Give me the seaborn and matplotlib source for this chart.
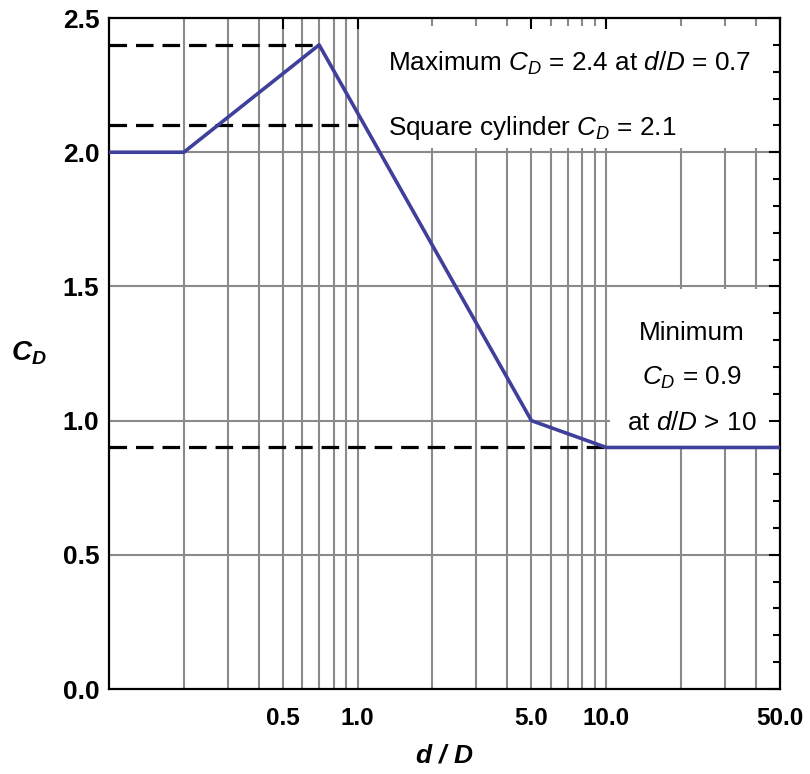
import numpy as np
import pandas as pd
import seaborn as sns
import matplotlib.pyplot as plt
from matplotlib.patches import Rectangle
from matplotlib.ticker import FixedLocator, FixedFormatter, MultipleLocator, LogLocator

# drag coefficient curve
ratio = [0.1, 0.2, 0.7, 5.0, 10.0, 50.0]
cd = [2.0, 2.0, 2.4, 1.0, 0.9, 0.9]

# reference levels (value, extends to d/D)
ref_levels = [2.4, 2.1, 0.9]
ref_ends = [0.7, 1.0, 10.0]

xtick_vals = [0.5, 1.0, 5.0, 10.0, 50.0]
xtick_labels = ["0.5", "1.0", "5.0", "10.0", "50.0"]
ytick_vals = [0.0, 0.5, 1.0, 1.5, 2.0, 2.5]
ytick_labels = ["0.0", "0.5", "1.0", "1.5", "2.0", "2.5"]

sns.set_style("white")
plt.rcParams['font.family'] = ['Liberation Sans', 'DejaVu Sans']
plt.rcParams['mathtext.fontset'] = 'custom'
plt.rcParams['mathtext.it'] = 'Liberation Sans:italic'
plt.rcParams['mathtext.rm'] = 'Liberation Sans'
plt.rcParams['mathtext.bf'] = 'Liberation Sans:bold:italic'
plt.rcParams['text.color'] = 'black'
plt.rcParams['axes.labelcolor'] = 'black'
plt.rcParams['xtick.color'] = 'black'
plt.rcParams['ytick.color'] = 'black'

df = pd.DataFrame({'ratio': ratio, 'cd': cd})

fig = plt.figure(figsize=(8.1, 7.74), dpi=100)
ax = fig.add_axes([0.1346, 0.1098, 0.8284, 0.8669])
ax.set_xscale('log')
ax.set_xlim(0.1, 50)
ax.set_ylim(0, 2.5)

# grid lines drawn by hand so the white label boxes can sit over them
grid_col = '#8a8a8a'
gx = LogLocator(base=10, subs=np.arange(1, 10)).tick_values(0.1, 50)
for v in gx:
    if 0.1 < v < 50:
        ax.axvline(v, color=grid_col, lw=1.5, zorder=0.5)
for v in ytick_vals[1:-1]:
    ax.axhline(v, color=grid_col, lw=1.5, zorder=0.5)

# white backgrounds behind the notes
ax.add_patch(Rectangle((1.035, 2.015), 50 - 1.035, 2.47 - 2.015,
                       facecolor='white', edgecolor='none', zorder=1))
ax.add_patch(Rectangle((10.35, 0.907), 50 - 10.35, 1.49 - 0.907,
                       facecolor='white', edgecolor='none', zorder=1))

for lvl, end in zip(ref_levels, ref_ends):
    ax.plot([0.1, end], [lvl, lvl], color='black', lw=2.3,
            dashes=(5.5, 2.8), zorder=2)

sns.lineplot(data=df, x='ratio', y='cd', ax=ax, color='#3f3f9c', lw=2.6, zorder=3)

txt = dict(fontsize=18.8, zorder=4)
ax.text(1.32, 2.33, r"Maximum $C_D$ = 2.4 at $d/D$ = 0.7", ha='left', va='center', **txt)
ax.text(1.32, 2.09, r"Square cylinder $C_D$ = 2.1", ha='left', va='center', **txt)
ax.text(22, 1.326, "Minimum", ha='center', va='center', **txt)
ax.text(22, 1.159, r"$C_D$ = 0.9", ha='center', va='center', **txt)
ax.text(22, 0.991, r"at $d/D$ > 10", ha='center', va='center', **txt)

ax.xaxis.set_major_locator(FixedLocator(xtick_vals))
ax.xaxis.set_major_formatter(FixedFormatter(xtick_labels))
ax.xaxis.set_minor_locator(FixedLocator([]))
ax.yaxis.set_major_locator(FixedLocator(ytick_vals))
ax.yaxis.set_major_formatter(FixedFormatter(ytick_labels))
ax.yaxis.set_minor_locator(MultipleLocator(0.1))

ax.tick_params(axis='both', which='both', direction='in', top=True, right=True,
               color='black', width=1.5)
ax.tick_params(axis='both', which='major', length=8)
ax.tick_params(axis='x', which='major', labelsize=17.5, pad=13)
ax.tick_params(axis='y', which='major', labelsize=19, pad=7)
ax.tick_params(axis='y', which='minor', length=5)
for lab in ax.get_xticklabels() + ax.get_yticklabels():
    lab.set_fontweight('bold')
ax.set_axisbelow(False)

for sp in ax.spines.values():
    sp.set_color('black')
    sp.set_linewidth(1.6)

ax.set_xlabel(r"$\mathbf{d}$ $\mathbf{/}$ $\mathbf{D}$", fontsize=19, labelpad=10)
ax.set_ylabel(r"$\mathbf{C_D}$", fontsize=20, rotation=0, labelpad=24, va='center')

fig.savefig('out.png', dpi=100)
